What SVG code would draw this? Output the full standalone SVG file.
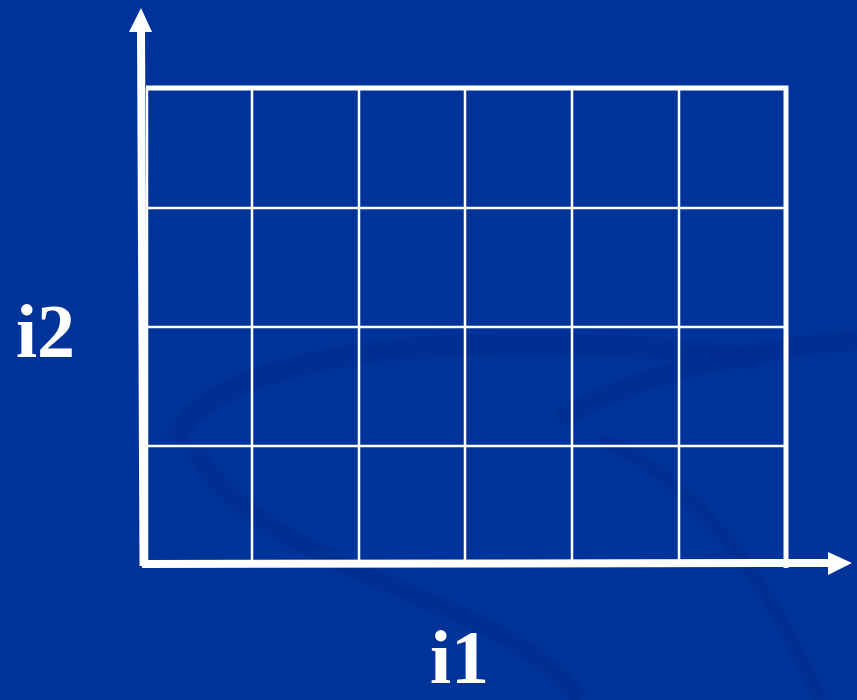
<svg xmlns="http://www.w3.org/2000/svg" width="857" height="700" viewBox="0 0 857 700">
<style>
.grid{stroke:#ffffff;stroke-width:2.5;fill:none}
.border{stroke:#ffffff;stroke-width:5;fill:none}
.axis{stroke:#ffffff;stroke-width:8;fill:none}
.head{fill:#ffffff}
.swirl{fill:none;stroke:#002a8a;stroke-opacity:0.4}
.lbl{font-family:"Liberation Serif","Times New Roman",serif;font-weight:bold;font-size:76px;fill:#ffffff}
</style>
<rect width="857" height="700" fill="#003399"/>
<g id="background">
<path class="swirl" stroke-width="22" d="M175,440 C200,380 320,350 470,345 C600,342 700,350 760,360"/>
<path class="swirl" stroke-width="18" d="M195,450 C230,520 330,560 450,610 C520,640 560,670 580,700"/>
<path class="swirl" stroke-width="20" d="M560,420 C620,380 740,350 857,340"/>
<path class="swirl" stroke-width="14" d="M600,440 C680,470 760,560 820,700"/>
</g>
<g id="grid">
<line class="grid" x1="252" y1="88" x2="252" y2="562"/>
<line class="grid" x1="359" y1="88" x2="359" y2="562"/>
<line class="grid" x1="465" y1="88" x2="465" y2="562"/>
<line class="grid" x1="572" y1="88" x2="572" y2="562"/>
<line class="grid" x1="679" y1="88" x2="679" y2="562"/>
<line class="grid" x1="146" y1="208" x2="786" y2="208"/>
<line class="grid" x1="146" y1="327" x2="786" y2="327"/>
<line class="grid" x1="146" y1="446" x2="786" y2="446"/>
<path class="border" d="M146,88 H786 V568"/>
<line class="grid" x1="147" y1="88" x2="147" y2="562"/>
</g>
<g id="connectors">
<line class="axis" x1="141" y1="30" x2="143.5" y2="566"/>
<polygon class="head" points="141,8 129,32 152,32"/>
<line class="axis" x1="142" y1="564" x2="830" y2="563"/>
<polygon class="head" points="852,563 828,552 828,575"/>
</g>
<g id="label-i2"><text class="lbl" x="16" y="357">i2</text></g>
<g id="label-i1"><text class="lbl" x="430" y="683">i1</text></g>
</svg>
